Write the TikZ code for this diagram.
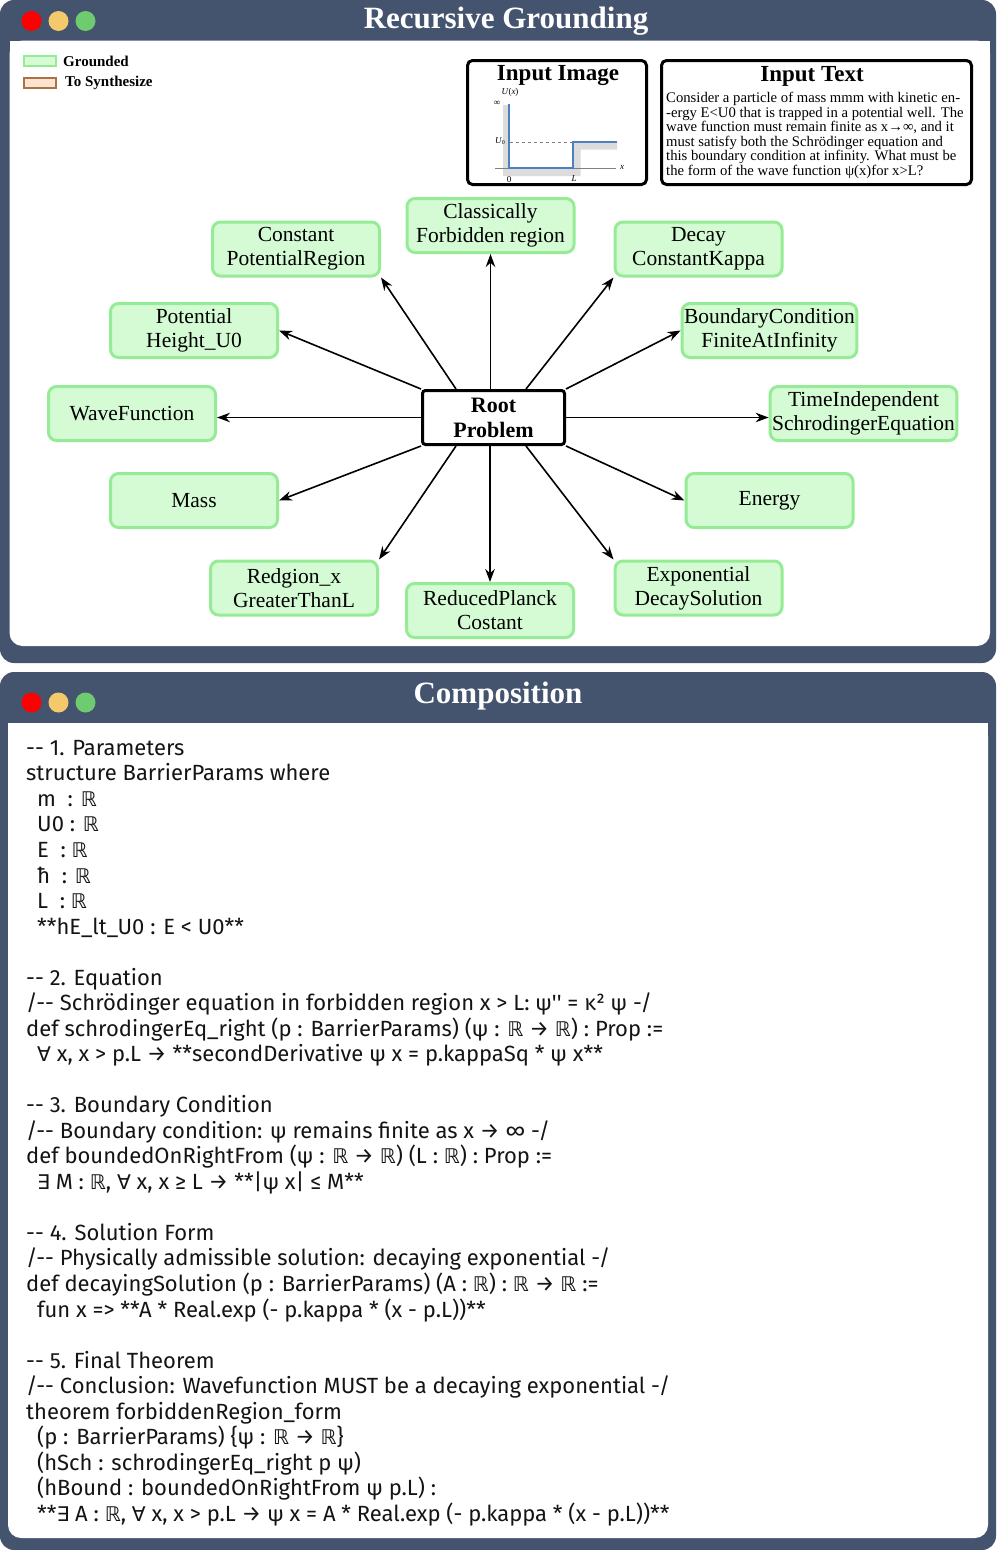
\documentclass[tikz,border=0pt]{standalone}
\usepackage{fontspec}
\setmainfont{Liberation Serif}
\newfontfamily\codefont{Fira Sans}
\newfontfamily\symf{DejaVu Sans}[Scale=0.92]
\usetikzlibrary{arrows.meta,calc}
\definecolor{slate}{HTML}{44546E}
\definecolor{gfill}{HTML}{D4FBD4}
\definecolor{gdraw}{HTML}{96EC96}
\definecolor{bfill}{HTML}{FFE3CC}
\definecolor{bdraw}{HTML}{A87446}
\definecolor{dotred}{HTML}{FF0000}
\definecolor{dotyel}{HTML}{F4C96B}
\definecolor{dotgrn}{HTML}{6FCB6F}
\definecolor{plotblue}{HTML}{4C80BE}
\definecolor{plotgray}{HTML}{DCDCDC}
\newcommand{\ind}{\hspace*{11pt}}
\newcommand{\RR}{{\symf ℝ}}
\newcommand{\FA}{{\symf ∀}}
\newcommand{\EX}{{\symf ∃}}
\begin{document}
\begin{tikzpicture}[x=1pt,y=-1pt,
  gnode/.style={draw=gdraw, fill=gfill, line width=3pt, rounded corners=8pt,
    minimum width=167pt, minimum height=54pt, align=center, inner sep=2pt,
    font=\fontsize{21.5}{24}\selectfont},
  rootnode/.style={draw=black, fill=white, line width=3pt, rounded corners=3pt,
    minimum width=142pt, minimum height=54pt, align=center, inner sep=2pt,
    font=\bfseries\fontsize{22}{25}\selectfont},
  arr/.style={-{Stealth[length=13pt,width=9.5pt]}, line width=1.6pt, black},
  inbox/.style={draw=black, line width=3pt, rounded corners=5pt, fill=white},
  wtitle/.style={text=white, font=\bfseries\fontsize{31}{31}\selectfont},
  legbox/.style={line width=2pt, minimum width=32pt, minimum height=10pt, inner sep=0pt},
  legtext/.style={anchor=west, inner sep=0pt, font=\bfseries\fontsize{15}{15}\selectfont},
  plotlab/.style={inner sep=0pt, font=\fontsize{9}{9}\selectfont}
]
\useasboundingbox (0,0) rectangle (996,1550);

% ---------- top panel ----------
\fill[slate, rounded corners=14pt] (0,0) rectangle (996,663);
\fill[white, rounded corners=13pt] (9.5,40.5) rectangle (990,646);
\fill[white] (9.5,40.5) rectangle (990,80);
\fill[dotred] (31.5,21) circle (10pt);
\fill[dotyel] (58.5,21) circle (10pt);
\fill[dotgrn] (85.5,21) circle (10pt);
\node[wtitle] (t1) at (506,21) {Recursive Grounding};

% legend
\node[legbox, draw=gdraw, fill=gfill] (lg1) at (39.5,61) {};
\node[legtext] (lg1t) at (63,61) {Grounded};
\node[legbox, draw=bdraw, fill=bfill] (lg2) at (39.5,83) {};
\node[legtext] (lg2t) at (65,83) {To Synthesize};

% input image
\node[inbox, minimum width=179pt, minimum height=124pt] (ib) at (557,122.5) {};
\node[inner sep=0pt, font=\bfseries\fontsize{23}{23}\selectfont] (ibt) at (558,76) {Input Image};
\fill[plotgray] (503,105) -- (509,105) -- (509,168) -- (573,168) -- (573,142) -- (617,142)
  -- (617,149.5) -- (580.5,149.5) -- (580.5,176) -- (503,176) -- cycle;
\draw[gray, line width=0.6pt] (495,168) -- (616,168);
\draw[gray, dashed, line width=0.6pt] (510,142) -- (573,142);
\draw[plotblue, line width=1.8pt] (509,104) -- (509,168) -- (573,168) -- (573,142) -- (617,142);
\node[plotlab] (lux) at (510,92) {\textit{U}(\textit{x})};
\node[plotlab] (linf) at (497,103) {∞};
\node[plotlab] (lu0) at (500,141) {\textit{U}\raisebox{-1.5pt}{\fontsize{6}{6}\selectfont 0}};
\node[plotlab] (l0) at (509,180) {0};
\node[plotlab] (lL) at (574,179) {\textit{L}};
\node[plotlab] (lx) at (622,167) {\textit{x}};

% input text
\node[inbox, minimum width=310pt, minimum height=124pt] (itx) at (816.5,122.5) {};
\node[inner sep=0pt, font=\bfseries\fontsize{23}{23}\selectfont] (itt) at (812,76) {Input Text};
\node[anchor=north west, align=left, inner sep=0pt, font=\fontsize{14.7}{14.6}\selectfont] (itb) at (666,92)
{Consider a particle of mass mmm with kinetic en-\\
-ergy E<U0 that is trapped in a potential well. The\\
wave function must remain finite as x→∞, and it\\
must satisfy both the Schrödinger equation and\\
this boundary condition at infinity. What must be\\
the form of the wave function ψ(x)for x>L?};

% nodes
\node[rootnode] (root) at (493.5,417.5) {Root\\Problem};
\node[gnode] (cpr) at (296,249) {Constant\\PotentialRegion};
\node[gnode] (cfr) at (490.5,225.5) {Classically\\Forbidden region};
\node[gnode] (dck) at (698.5,249) {Decay\\ConstantKappa};
\node[gnode] (phu) at (194,330.5) {Potential\\Height\_U0};
\node[gnode] (bcf) at (769.5,330.5) {BoundaryCondition\\FiniteAtInfinity};
\node[gnode] (wf) at (132,413.5) {WaveFunction};
\node[gnode, minimum width=184pt] (tis) at (863.5,413.5) {TimeIndependent\\SchrodingerEquation};
\node[gnode] (mass) at (194,500.5) {Mass};
\node[gnode] (energy) at (769.5,500.5) {Energy};
\node[gnode] (rgx) at (294,588) {Redgion\_x\\GreaterThanL};
\node[gnode] (rpc) at (490,610.5) {ReducedPlanck\\Costant};
\node[gnode] (eds) at (698.5,588) {Exponential\\DecaySolution};

% arrows
\draw[arr] ([xshift=-37.5pt]root.north) -- (cpr.south east);
\draw[arr] ([xshift=-3pt]root.north) -- (cfr.south);
\draw[arr] ([xshift=32.5pt]root.north) -- (dck.south west);
\draw[arr] (root.north west) -- (phu.east);
\draw[arr] (root.north east) -- (bcf.west);
\draw[arr] (root.west) -- (root.west -| wf.east);
\draw[arr] (root.east) -- (root.east -| tis.west);
\draw[arr] (root.south west) -- (mass.east);
\draw[arr] (root.south east) -- (energy.west);
\draw[arr] ([xshift=-37.5pt]root.south) -- (rgx.north east);
\draw[arr] ([xshift=-3.5pt]root.south) -- (rpc.north);
\draw[arr] ([xshift=32.5pt]root.south) -- (eds.north west);

% ---------- bottom panel ----------
\fill[slate, rounded corners=14pt] (0,672) rectangle (996,1550);
\fill[white, rounded corners=13pt] (8,723) rectangle (988,1538);
\fill[white] (8,723) rectangle (988,760);
\fill[dotred] (31.5,702.5) circle (10pt);
\fill[dotyel] (58.5,702.5) circle (10pt);
\fill[dotgrn] (85.5,702.5) circle (10pt);
\node[wtitle] (t2) at (498,696) {Composition};

\node[anchor=north west, align=left, inner sep=0pt, text=black!92,
  font=\codefont\fontsize{22}{25.53}\selectfont] (code) at (26,740)
{-{}- 1. Parameters\\
structure BarrierParams where\\
\ind m~~: \RR\\
\ind U0 : \RR\\
\ind E~~: \RR\\
\ind ħ~~: \RR\\
\ind L~~: \RR\\
\ind **hE\_lt\_U0 : E < U0**\\
~\\
-{}- 2. Equation\\
/-{}- Schrödinger equation in forbidden region x > L: ψ\textquotesingle\textquotesingle{} = κ² ψ -/\\
def schrodingerEq\_right (p : BarrierParams) (ψ : \RR{} → \RR) : Prop :=\\
\ind \FA{} x, x > p.L → **secondDerivative ψ x = p.kappaSq * ψ x**\\
~\\
-{}- 3. Boundary Condition\\
/-{}- Boundary condition: ψ remains finite as x → ∞ -/\\
def boundedOnRightFrom (ψ : \RR{} → \RR) (L : \RR) : Prop :=\\
\ind \EX{} M : \RR, \FA{} x, x ≥ L → **|ψ x| ≤ M**\\
~\\
-{}- 4. Solution Form\\
/-{}- Physically admissible solution: decaying exponential -/\\
def decayingSolution (p : BarrierParams) (A : \RR) : \RR{} → \RR{} :=\\
\ind fun x => **A * Real.exp (- p.kappa * (x - p.L))**\\
~\\
-{}- 5. Final Theorem\\
/-{}- Conclusion: Wavefunction MUST be a decaying exponential -/\\
theorem forbiddenRegion\_form\\
\ind (p : BarrierParams) \{ψ : \RR{} → \RR\}\\
\ind (hSch : schrodingerEq\_right p ψ)\\
\ind (hBound : boundedOnRightFrom ψ p.L) :\\
\ind **\EX{} A : \RR, \FA{} x, x > p.L → ψ x = A * Real.exp (- p.kappa * (x - p.L))**};
\end{tikzpicture}
\end{document}
